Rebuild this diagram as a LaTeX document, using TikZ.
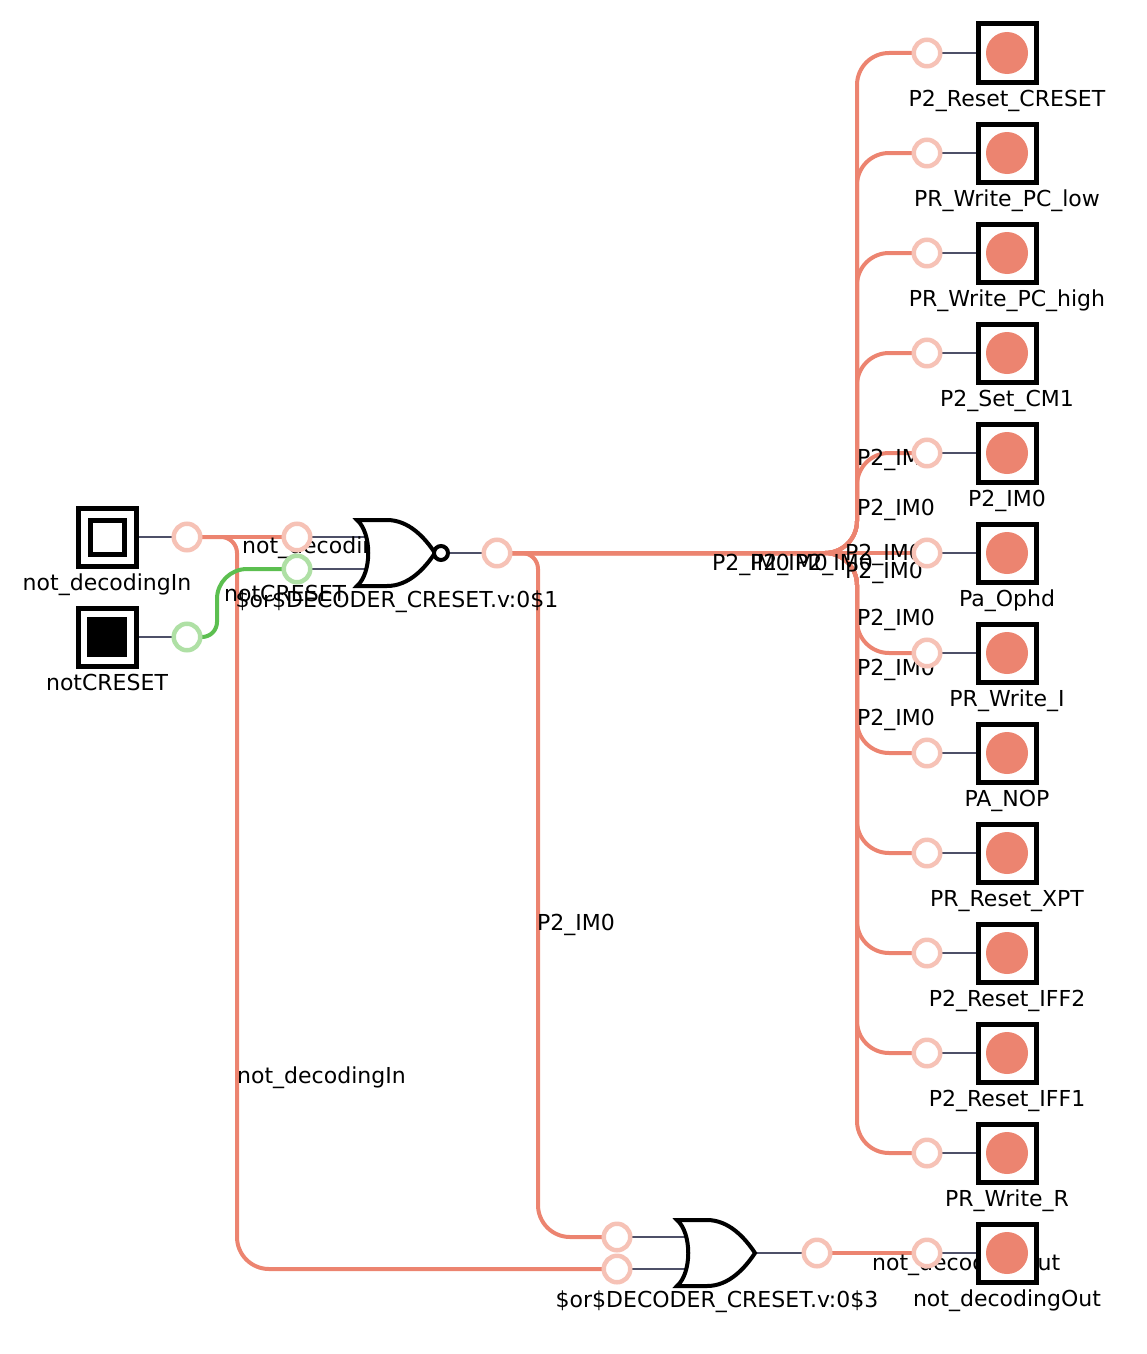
\documentclass[tikz,border=0pt]{standalone}
\usepackage{fontspec}
\setmainfont{DejaVu Sans}
\usepackage{tikz}
\usetikzlibrary{backgrounds}
\definecolor{netred}{HTML}{EC8470}
\definecolor{netgreen}{HTML}{5CBF50}
\definecolor{portred}{HTML}{F6C2B6}
\definecolor{portgreen}{HTML}{AFE0A5}
\definecolor{stubgray}{HTML}{4E5068}
\tikzset{
  port/.style={circle, draw=portred, fill=white, line width=4.5pt, minimum size=26.5pt, inner sep=0pt, outer sep=0pt},
  portg/.style={port, draw=portgreen},
  term/.style={rectangle, draw, fill=white, line width=5pt, minimum size=58pt, inner sep=0pt, outer sep=0pt},
  dot/.style={circle, fill=netred, minimum size=42pt, inner sep=0pt},
  wire/.style={draw=netred, line width=4pt},
  wireg/.style={draw=netgreen, line width=4pt},
  stub/.style={draw=stubgray, line width=2pt},
  tag/.style={font=\fontsize{22}{26}\selectfont, inner sep=0pt, anchor=base},
  wtag/.style={tag, anchor=base west},
  orgate/.pic={
    \path[draw=black, fill=white, line width=4pt, miter limit=10]
      (0,-33) .. controls (15,-20) and (15,20) .. (0,33) -- (30,33)
      .. controls (52,33) and (68,15) .. (78,0)
      .. controls (68,-15) and (52,-33) .. (30,-33) -- cycle;
    \coordinate (-a) at (13,-16);
    \coordinate (-b) at (13,16);
    \coordinate (-o) at (78,0);
  }
}

\begin{document}
\begin{tikzpicture}[x=1pt, y=-1pt]
  \useasboundingbox (0,0) rectangle (1147,1354);

  % Inputs
  \node[term] (inA) at (107,537) {};
  \node[rectangle, draw, line width=5pt, minimum size=34pt, inner sep=0pt] (inAmark) at (107,537) {};
  \node[tag] (inAlab) at (107,590) {not\_decodingIn};
  \node[term] (inB) at (107,637) {};
  \node[rectangle, fill=black, minimum size=40pt, inner sep=0pt] (inBmark) at (107,637) {};
  \node[tag] (inBlab) at (107,690) {notCRESET};
  \node[port] (pA) at (187,537) {};
  \node[portg] (pB) at (187,637) {};

  % Gates
  \node[port] (norA) at (297,537) {};
  \node[portg] (norB) at (297,569) {};
  \pic (nor) at (357,553) {orgate};
  \node[circle, draw, fill=white, line width=4pt, minimum size=14pt, inner sep=0pt, outer sep=0pt] (bub) at (441,553) {};
  \node[tag] (norlab) at (397,607) {\$or\$DECODER\_CRESET.v:0\$1};
  \node[port] (norOut) at (497,553) {};

  \node[port] (orA) at (617,1237) {};
  \node[port] (orB) at (617,1269) {};
  \pic (or) at (677,1253) {orgate};
  \node[tag] (orlab) at (717,1307) {\$or\$DECODER\_CRESET.v:0\$3};
  \node[port] (orOut) at (817,1253) {};

  % Outputs
  \coordinate (bus) at (857,553);
  \coordinate (turnA) at (237,553);
  \coordinate (turnB) at (538,553);
  \coordinate (turnC) at (217,600);
  \foreach \y/\lab in {53/P2\_Reset\_CRESET, 153/PR\_Write\_PC\_low, 253/PR\_Write\_PC\_high,
      353/P2\_Set\_CM1, 453/P2\_IM0, 553/Pa\_Ophd, 653/PR\_Write\_I, 753/PA\_NOP,
      853/PR\_Reset\_XPT, 953/P2\_Reset\_IFF2, 1053/P2\_Reset\_IFF1, 1153/PR\_Write\_R,
      1253/not\_decodingOut} {
    \node[term] (t\y) at (1007,\y) {};
    \node[dot] (d\y) at (t\y.center) {};
    \node[tag] (l\y) at (1007,\y+53) {\lab};
    \node[port] (p\y) at (927,\y) {};
  }

  \begin{scope}[on background layer]
    % Connections
    \foreach \y in {53,153,253,353,453,653,753,853,953,1053,1153} {
      \draw[wire, rounded corners=32pt] (norOut.east) -- (bus) -- (bus |- p\y) -- (p\y.west);
      \draw[stub] (p\y.east) -- (t\y.west);
    }
    \draw[wire] (norOut.east) -- (p553.west);
    \draw[stub] (p553.east) -- (t553.west);
    \draw[stub] (p1253.east) -- (t1253.west);
    \draw[wire] (orOut.east) -- (p1253.west);
    \draw[stub] (inA.east) -- (pA.west);
    \draw[stub] (inB.east) -- (pB.west);
    \draw[wire] (pA.east) -- (norA.west);
    \draw[wire, rounded corners=16pt] (pA.east) -- (turnA |- pA) [rounded corners=32pt] -- (turnA |- orB) -- (orB.west);
    \draw[wireg, rounded corners=15pt] (pB.east) -- (turnC |- pB) [rounded corners=30pt] -- (turnC |- norB) -- (norB.west);
    \draw[stub] (norA.east) -- (nor-a |- norA);
    \draw[stub] (norB.east) -- (nor-b |- norB);
    \draw[stub] (bub.east) -- (norOut.west);
    \draw[wire, rounded corners=16pt] (norOut.east) -- (turnB) [rounded corners=32pt] -- (turnB |- orA) -- (orA.west);
    \draw[stub] (orA.east) -- (or-a |- orA);
    \draw[stub] (orB.east) -- (or-b |- orB);
    \draw[stub] (or-o) -- (orOut.west);

    % Net labels
    \node[wtag] (n1) at (242,553) {not\_decodingIn};
    \node[wtag] (n2) at (224,601) {notCRESET};
    \node[wtag] (n3) at (237,1083) {not\_decodingIn};
    \node[wtag] (n4) at (537,930) {P2\_IM0};
    \node[wtag] (n5) at (872,1270) {not\_decodingOut};
    \foreach \x/\y in {857/465, 857/515, 857/625, 857/675, 857/725, 712/570, 750/570, 795/570, 845/560, 845/578} {
      \node[wtag] (m\x\y) at (\x,\y) {P2\_IM0};
    }
  \end{scope}
\end{tikzpicture}
\end{document}
